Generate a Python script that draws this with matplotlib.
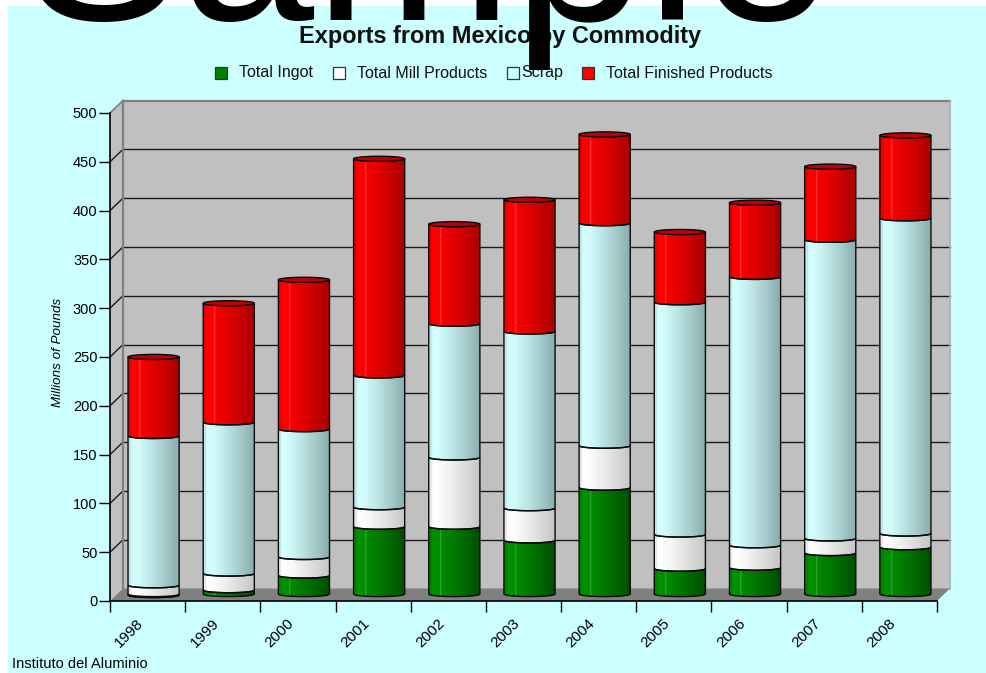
import numpy as np
import matplotlib
matplotlib.use("Agg")
import matplotlib.pyplot as plt
from matplotlib.patches import PathPatch, Polygon, Rectangle, Ellipse
from matplotlib.path import Path
from matplotlib.transforms import Affine2D, IdentityTransform

plt.rcParams['font.family'] = ['Liberation Sans', 'DejaVu Sans']

years = ["1998", "1999", "2000", "2001", "2002", "2003", "2004", "2005", "2006", "2007", "2008"]
ingot = [2, 7, 22, 72, 72, 58, 112, 29, 30, 45, 51]
mill = [10, 17, 19, 20, 71, 33, 43, 35, 23, 15, 14]
scrap = [153, 155, 131, 135, 137, 181, 228, 238, 275, 306, 323]
finished = [81, 122, 153, 222, 102, 135, 91, 72, 76, 75, 85]
y_ticks = [0, 50, 100, 150, 200, 250, 300, 350, 400, 450, 500]

W, H = 986, 673
BG = "#CCFFFF"

# left colour and right colour of each cylinder
shades = [("#009000", "#004C00"), ("#FFFFFF", "#C4C4C4"), ("#D4FFFF", "#88ABAB"), ("#FF0000", "#A80000")]


def px(x, y):
    # reference pixel (y down) to display coords
    return (x, H - y)


fig = plt.figure(figsize=(W / 100, H / 100), dpi=100, facecolor="white")
fig.patches.append(Rectangle((8 / W, 0), (W - 8) / W, (H - 6) / H, transform=fig.transFigure, color=BG, zorder=-5))

ax = fig.add_axes([110 / W, (H - 601) / H, 827 / W, 488 / H])
ax.set_facecolor("none")
ax.set_xlim(0, len(years))
ax.set_ylim(0, 500)

# walls and floor, 3d depth in pixels
dx, dy = 13, 12.5
back = ax.transData + Affine2D().translate(dx, dy)
bar_tr = ax.transData + Affine2D().translate(6, 4)
ident = IdentityTransform()

ax.add_patch(Rectangle((0, 0), 11, 500, transform=back, fc="#C0C0C0", ec="none", zorder=0, clip_on=False))
ax.add_patch(Polygon([px(110, 113), px(123, 100.5), px(123, 588.5), px(110, 601)], transform=ident,
                     fc="#C0C0C0", ec="none", zorder=0, clip_on=False))
ax.add_patch(Polygon([px(110, 601), px(123, 588.5), px(950, 588.5), px(937, 601)], transform=ident,
                     fc="#808080", ec="none", zorder=1, clip_on=False))

for v in y_ticks[1:-1]:
    ax.plot([0, 11], [v, v], color="#1a1a1a", lw=1.0, transform=back, zorder=1, clip_on=False)
    ya = ax.transData.transform((0, v))
    ax.plot([ya[0], ya[0] + dx], [ya[1], ya[1] + dy], color="#1a1a1a", lw=1.0, transform=ident, zorder=1, clip_on=False)

ax.plot([0, 0], [0, 500], color="#808080", lw=1.6, transform=back, zorder=1, clip_on=False)
ax.plot([0, 11], [500, 500], color="#808080", lw=1.6, transform=back, zorder=1, clip_on=False)
ax.plot(*zip(px(110, 113), px(123, 100.5)), color="#808080", lw=1.2, transform=ident, zorder=1, clip_on=False)
ax.plot([11, 11], [0, 500], color="#A8B0B0", lw=1.2, transform=back, zorder=1, clip_on=False)

# stacked cylinders
bar_w = 0.68
sag = 2.6
t = np.linspace(-1, 1, 41)
arc = np.sqrt(1 - t ** 2) * sag


def gradient(c1, c2):
    a = np.array(matplotlib.colors.to_rgb(c1))
    b = np.array(matplotlib.colors.to_rgb(c2))
    u = np.linspace(0, 1, 80)
    f = np.clip((u - 0.12) / 0.88, 0, 1)[:, None]
    img = a + (b - a) * f ** 1.2
    img[:5] = img[:5] * 0.82 + 0.18 * a * 0.5
    img[17:19] = img[17:19] * 0.8 + 0.2
    return img[None, :, :]


series = [ingot, mill, scrap, finished]
for i in range(len(years)):
    xc = i + 0.5
    xs = xc + t * bar_w / 2
    base = 0.0
    for s, vals in enumerate(series):
        top = base + vals[i]
        low = base - arc
        if s == 0:
            # the round foot of the cylinder stops a little above the floor front
            low = low + 3
        high = top - arc
        verts = list(zip(xs, low)) + list(zip(xs[::-1], high[::-1])) + [(xs[0], low[0])]
        codes = [Path.MOVETO] + [Path.LINETO] * (len(verts) - 2) + [Path.CLOSEPOLY]
        patch = PathPatch(Path(verts, codes), transform=bar_tr, fc="none", ec="#0a0a0a", lw=1.0, zorder=4 + s * 0.1,
                          clip_on=False)
        ax.add_patch(patch)
        im = ax.imshow(gradient(*shades[s]), extent=(xs[0], xs[-1], low.min(), high.max()), aspect="auto",
                       transform=bar_tr, zorder=3 + s * 0.1, interpolation="bilinear")
        im.set_clip_path(patch)
        base = top
    ax.add_patch(Ellipse((xc, base), bar_w, 2 * sag, transform=bar_tr, fc="#C00000", ec="#0a0a0a", lw=1.0, zorder=5,
                         clip_on=False))

ax.set_xlim(0, len(years))
ax.set_ylim(0, 500)

for sp in ["top", "right"]:
    ax.spines[sp].set_visible(False)
ax.spines["left"].set_linewidth(1.2)
ax.spines["bottom"].set_linewidth(1.2)
ax.spines["left"].set_zorder(2)
ax.spines["bottom"].set_zorder(2)

ax.set_yticks(y_ticks)
ax.tick_params(axis="y", length=8, width=1, pad=1, labelsize=10.5)
ax.set_xticks(np.arange(len(years) + 1))
ax.set_xticklabels([])
ax.tick_params(axis="x", which="major", length=8, width=1)
ax.set_xticks(np.arange(len(years)) + 0.5, minor=True)
ax.set_xticklabels(years, minor=True, rotation=45, ha="right", va="top", rotation_mode="anchor", fontsize=11)
ax.tick_params(axis="x", which="minor", length=0, pad=11)
for lab in ax.get_xticklabels(minor=True):
    lab.set_transform(lab.get_transform() + Affine2D().translate(-11, 0))

fig.text(58 / W, 1 - 352 / H, "Millions of Pounds", rotation=90, style="italic", fontsize=9.6, ha="center", va="center")
fig.text(500 / W, 1 - 37 / H, "Exports from Mexico by Commodity", fontweight="bold", fontsize=16.9, ha="center",
         va="center", color="#111111")
fig.text(12 / W, 1 - 664 / H, "Instituto del Aluminio", fontsize=10.5, ha="left", va="center")

# legend is laid out by hand, the gaps in the original are uneven
legend_labels = ["Total Ingot", "Total Mill Products", "Scrap", "Total Finished Products"]
legend_colors = ["#008000", "#FFFFFF", BG, "#FF0000"]
legend_box_x = [215, 333, 507, 582]
legend_text_x = [239, 357, 521, 606]
for lab, col, bx, tx in zip(legend_labels, legend_colors, legend_box_x, legend_text_x):
    fig.patches.append(Rectangle((bx / W, 1 - 79 / H), 12 / W, 12 / H, transform=fig.transFigure, fc=col,
                                 ec="#333333", lw=0.9))
    fig.text(tx / W, 1 - 73 / H, lab, fontsize=11.5, ha="left", va="center", color="#111111")

# watermark, cropped by the top of the image
fig.text(427 / W, 1 - 20 / H, "Sample", fontsize=172, color="black", ha="center", va="baseline", zorder=20)

fig.savefig("out.png", dpi=100)
